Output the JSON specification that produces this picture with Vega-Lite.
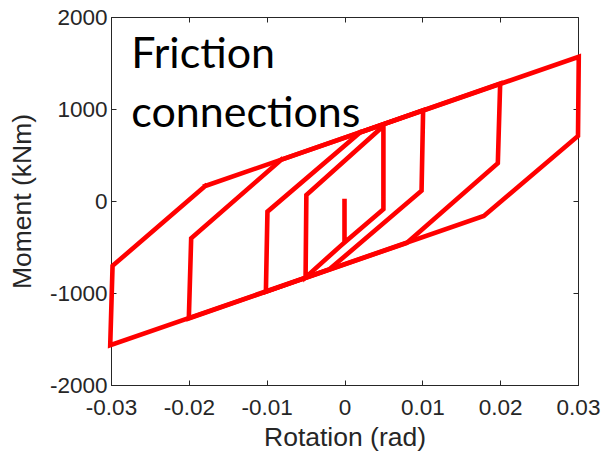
{
  "$schema": "https://vega.github.io/schema/vega-lite/v6.json",
  "width": 467,
  "height": 368,
  "autosize": {"type": "none"},
  "padding": {"left": 111, "top": 17, "right": 24, "bottom": 71},
  "background": "white",
  "config": {
    "view": {"stroke": "#262626", "strokeWidth": 1},
    "axis": {
      "domainColor": "#262626",
      "tickColor": "#262626",
      "gridColor": "#e3e3e3",
      "gridWidth": 1,
      "labelFont": "Liberation Sans",
      "labelFontSize": 22.5,
      "labelColor": "#262626",
      "labelFlush": false,
      "labelOverlap": false,
      "titleFont": "Liberation Sans",
      "titleFontSize": 26.5,
      "titleFontWeight": "normal",
      "titleColor": "#262626"
    }
  },
  "resolve": {"axis": {"x": "independent", "y": "independent"}},
  "datasets": {
    "curve": [
      {"s": 0, "o": 0, "r": 0.0, "m": 0},
      {"s": 0, "o": 1, "r": 0.0, "m": -450},
      {"s": 0, "o": 2, "r": 0.005, "m": -90},
      {"s": 0, "o": 3, "r": 0.005, "m": 815},
      {"s": 0, "o": 4, "r": -0.0049, "m": 65},
      {"s": 0, "o": 5, "r": -0.005, "m": -830},
      {"s": 0, "o": 6, "r": 0.0, "m": -450},
      {"s": 1, "o": 0, "r": 0.002, "m": 745},
      {"s": 1, "o": 1, "r": 0.0101, "m": 987},
      {"s": 1, "o": 2, "r": 0.0099, "m": 112},
      {"s": 1, "o": 3, "r": -0.0019, "m": -740},
      {"s": 1, "o": 4, "r": -0.0101, "m": -987},
      {"s": 1, "o": 5, "r": -0.0099, "m": -116},
      {"s": 1, "o": 6, "r": 0.002, "m": 745},
      {"s": 2, "o": 0, "r": -0.0081, "m": 450},
      {"s": 2, "o": 1, "r": 0.02, "m": 1277},
      {"s": 2, "o": 2, "r": 0.0197, "m": 410},
      {"s": 2, "o": 3, "r": 0.008, "m": -455},
      {"s": 2, "o": 4, "r": -0.02, "m": -1277},
      {"s": 2, "o": 5, "r": -0.0197, "m": -406},
      {"s": 2, "o": 6, "r": -0.0081, "m": 450},
      {"s": 3, "o": 0, "r": -0.0179, "m": 163},
      {"s": 3, "o": 1, "r": 0.0301, "m": 1568},
      {"s": 3, "o": 2, "r": 0.03, "m": 707},
      {"s": 3, "o": 3, "r": 0.0179, "m": -163},
      {"s": 3, "o": 4, "r": -0.0301, "m": -1568},
      {"s": 3, "o": 5, "r": -0.0298, "m": -705},
      {"s": 3, "o": 6, "r": -0.0179, "m": 163}
    ],
    "note": [
      {"r": -0.0274, "m": 1449, "label": "Friction\nconnections"}
    ]
  },
  "layer": [
    {
      "data": {"name": "curve"},
      "mark": {"type": "point", "opacity": 0},
      "encoding": {
        "x": {
          "field": "r", "type": "quantitative",
          "scale": {"domain": [-0.03, 0.03], "nice": false, "zero": false},
          "axis": {
            "orient": "top", "title": null, "labels": false, "grid": false, "domain": false,
            "values": [-0.03, -0.02, -0.01, 0, 0.01, 0.02, 0.03],
            "tickSize": -5
          }
        },
        "y": {
          "field": "m", "type": "quantitative",
          "scale": {"domain": [-2000, 2000], "nice": false},
          "axis": {
            "orient": "right", "title": null, "labels": false, "grid": false, "domain": false,
            "values": [-2000, -1000, 0, 1000, 2000],
            "tickSize": -5
          }
        }
      }
    },
    {
      "data": {"name": "curve"},
      "mark": {"type": "line", "color": "#ff0000", "strokeWidth": 4.6, "strokeJoin": "miter", "strokeCap": "square"},
      "encoding": {
        "x": {
          "field": "r", "type": "quantitative",
          "scale": {"domain": [-0.03, 0.03], "nice": false, "zero": false},
          "axis": {
            "orient": "bottom",
            "title": "Rotation (rad)",
            "values": [-0.03, -0.02, -0.01, 0, 0.01, 0.02, 0.03],
            "labelExpr": "datum.value == 0 ? '0' : toString(round(datum.value * 100) / 100)",
            "tickSize": -5,
            "labelPadding": 16,
            "titlePadding": 6
          }
        },
        "y": {
          "field": "m", "type": "quantitative",
          "scale": {"domain": [-2000, 2000], "nice": false},
          "axis": {
            "orient": "left",
            "title": "Moment (kNm)",
            "values": [-2000, -1000, 0, 1000, 2000],
            "labelExpr": "toString(datum.value)",
            "tickSize": -5,
            "labelPadding": 9,
            "titlePadding": 13
          }
        },
        "detail": {"field": "s", "type": "nominal"},
        "order": {"field": "o", "type": "quantitative"}
      }
    },
    {
      "data": {"name": "note"},
      "mark": {"type": "text", "font": "Lato", "fontSize": 43, "align": "left", "baseline": "alphabetic", "lineBreak": "\n", "lineHeight": 59, "color": "#000000"},
      "encoding": {
        "x": {"field": "r", "type": "quantitative", "axis": null},
        "y": {"field": "m", "type": "quantitative", "axis": null},
        "text": {"field": "label", "type": "nominal"}
      }
    }
  ]
}
